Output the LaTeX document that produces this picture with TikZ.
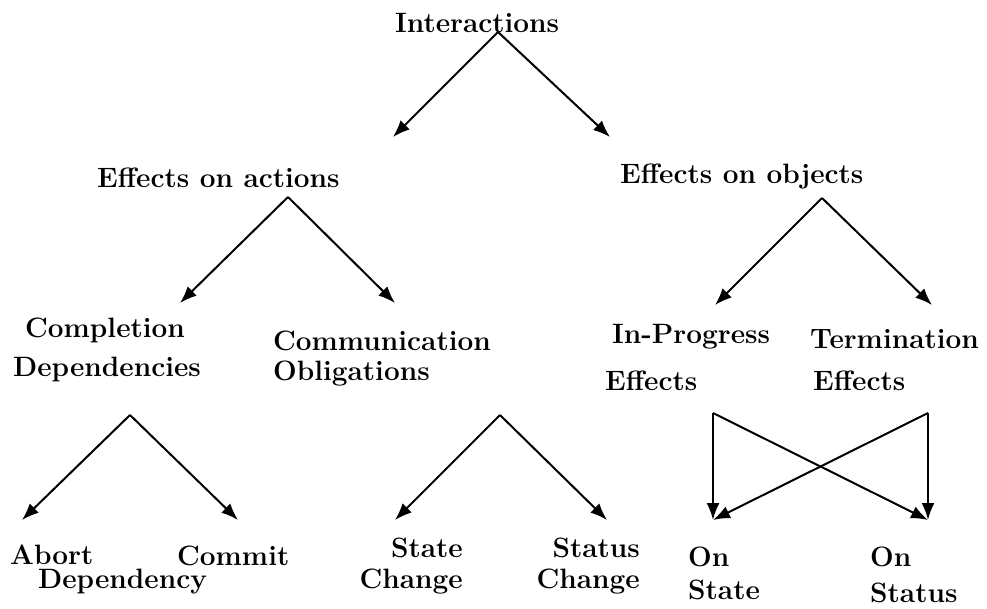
\documentclass[tikz,border=0pt]{standalone}
\usetikzlibrary{arrows.meta}
\begin{document}
\begin{tikzpicture}[x=1pt,y=-1pt,
  lbl/.style={inner sep=0pt, anchor=base west, align=left, font=\fontsize{28}{30}\selectfont\bfseries},
  lblr/.style={lbl, anchor=base east, align=right},
  arr/.style={line width=2pt, line join=miter, -{Latex[length=17pt,width=13pt]}}]
\useasboundingbox (0,0) rectangle (987,608);
% labels (base anchor = baseline of the last line)
\node[lbl] (inter) at (395,32) {Interactions};
\node[lbl] (act) at (97,187) {Effects on actions};
\node[lbl] (obj) at (620,183) {Effects on objects};
\node[lbl] (comp) at (13,376) {\hspace*{12pt}Completion\\[9pt]Dependencies};
\node[lbl] (comm) at (273,380) {Communication\\Obligations};
\node[lbl] (inprog) at (605,390) {\hspace*{7pt}In-Progress\\[17pt]Effects};
\node[lbl] (term) at (810,390) {Termination\\[12pt]\hspace*{3pt}Effects};
\node[lbl] (abort) at (10,588) {Abort\\[-6pt]\hspace*{28pt}Dependency};
\node[lbl] (commit) at (177,565) {Commit};
\node[lblr] (statech) at (463,588) {State\\[1pt]Change};
\node[lblr] (statusch) at (640,588) {Status\\[1pt]Change};
\node[lbl] (onstate) at (688,599) {On\\[3pt]State};
\node[lbl] (onstatus) at (870,602) {On\\[6pt]Status};
% connector end points
\coordinate (interA) at (498,32);
\coordinate (interL) at (393,137);
\coordinate (interR) at (610,137);
\coordinate (actA) at (288,197);
\coordinate (actL) at (180,303);
\coordinate (actR) at (395,303);
\coordinate (objA) at (822,198);
\coordinate (objL) at (715,305);
\coordinate (objR) at (932,305);
\coordinate (compA) at (130,415);
\coordinate (compL) at (22,520);
\coordinate (compR) at (238,520);
\coordinate (commA) at (500,415);
\coordinate (commL) at (395,520);
\coordinate (commR) at (607,520);
\coordinate (ipA) at (713,413);
\coordinate (teA) at (928,413);
\coordinate (stT) at (713,520);
\coordinate (suT) at (928,520);
% connectors
\draw[arr] (interA) -- (interL);
\draw[arr] (interA) -- (interR);
\draw[arr] (actA) -- (actL);
\draw[arr] (actA) -- (actR);
\draw[arr] (objA) -- (objL);
\draw[arr] (objA) -- (objR);
\draw[arr] (compA) -- (compL);
\draw[arr] (compA) -- (compR);
\draw[arr] (commA) -- (commL);
\draw[arr] (commA) -- (commR);
\draw[arr] (ipA) -- (stT);
\draw[arr] (ipA) -- (suT);
\draw[arr] (teA) -- (suT);
\draw[arr] (teA) -- (stT);
\end{tikzpicture}
\end{document}
